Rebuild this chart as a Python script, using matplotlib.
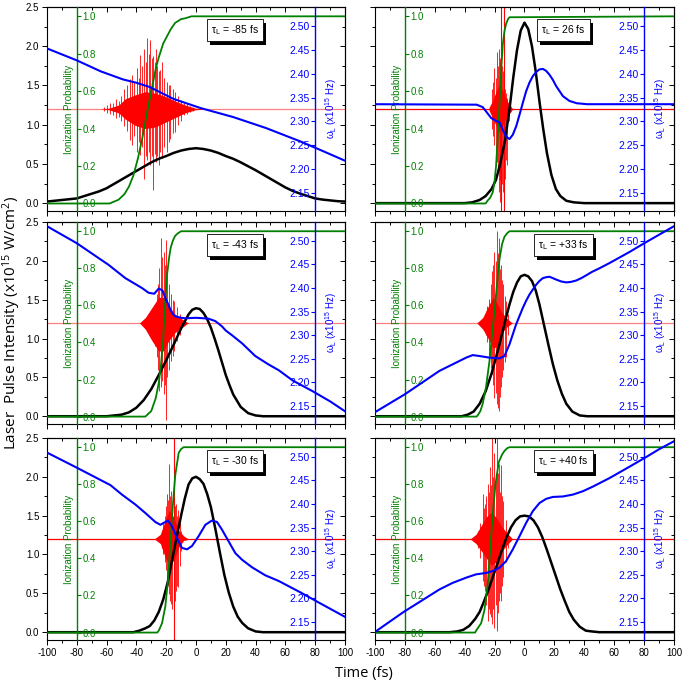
import matplotlib
matplotlib.use('Agg')
import matplotlib.pyplot as plt
import matplotlib.patheffects as pe
from matplotlib.ticker import MultipleLocator, FormatStrFormatter

plt.rcParams['font.family'] = ['Liberation Sans', 'DejaVu Sans']
plt.rcParams['mathtext.default'] = 'regular'
plt.rcParams['axes.unicode_minus'] = False

GREEN = '#008000'
BLUE = '#0000ff'
RED = '#ff0000'

# ---------------- values ----------------
tau_labels = ['-85', '26', '-43', '+33', '-30', '+40']
red_base = 1.2   # zero of the red trace, on the intensity scale

# panel A  (tau = -85 fs)
a_black_t = [-100, -95, -90, -85, -80, -75, -70, -65, -60, -55, -50, -45, -40, -35, -30, -25, -20, -15, -10, -5, 0,
             5, 10, 15, 20, 25, 30, 35, 40, 45, 50, 55, 60, 65, 70, 75, 80, 85, 90, 95, 100]
a_black_i = [0.02, 0.03, 0.04, 0.05, 0.06, 0.09, 0.12, 0.15, 0.19, 0.245, 0.30, 0.355, 0.41, 0.465, 0.52, 0.565, 0.60,
             0.64, 0.67, 0.69, 0.70, 0.69, 0.67, 0.64, 0.60, 0.565, 0.52, 0.47, 0.42, 0.365, 0.31, 0.255, 0.20,
             0.155, 0.12, 0.09, 0.06, 0.045, 0.035, 0.025, 0.02]
a_green_t = [-100, -58, -52, -48, -45, -42, -39, -36, -33, -30, -27, -25, -22, -20, -17, -14, -10, -7, -3, 100]
a_green_p = [0, 0, 0.02, 0.05, 0.09, 0.15, 0.24, 0.35, 0.48, 0.60, 0.72, 0.78, 0.855, 0.885, 0.93, 0.965, 0.985, 0.99, 1.0, 1.0]
a_blue_t = [-100, -80, -64, -49, -40, -31, -24, -15, 3, 25, 47, 70, 82, 100]
a_blue_w = [2.453, 2.428, 2.405, 2.388, 2.381, 2.372, 2.361, 2.347, 2.328, 2.309, 2.286, 2.258, 2.242, 2.2175]
a_core_t = [-64, -58.6, -51.9, -47.4, -40.7, -34, -27.3, -20.6, -13.9, -7.2, -0.4, 6.3]
a_core_hi = [1.2, 1.21, 1.25, 1.33, 1.38, 1.42, 1.40, 1.36, 1.30, 1.25, 1.21, 1.2]
a_core_lo = [1.2, 1.19, 1.15, 1.07, 0.99, 0.95, 0.97, 1.03, 1.09, 1.15, 1.19, 1.2]
a_spk_t = [-62, -60, -58, -56, -54, -52, -50, -48, -46, -44, -43, -41.5, -39.6, -38.5, -37.4, -36, -34.7, -33.8,
           -32.9, -31.8, -30.6, -29.7, -28.9, -27.8, -26.8, -25.9, -25.1, -24, -22.8, -21.5, -19.5, -18.3, -17.2,
           -15.5, -13.9, -12, -10, -8, -6, -4, -2]
a_spk_hi = [1.23, 1.25, 1.27, 1.28, 1.33, 1.30, 1.36, 1.45, 1.50, 1.58, 1.63, 1.55, 1.72, 1.60, 1.89, 1.75, 1.97,
            1.80, 2.10, 1.90, 2.08, 1.85, 1.87, 1.80, 1.97, 1.75, 1.68, 1.70, 1.80, 1.60, 1.55, 1.50, 1.51, 1.45,
            1.42, 1.36, 1.32, 1.28, 1.26, 1.24, 1.23]
a_spk_lo = [1.17, 1.15, 1.13, 1.12, 1.08, 1.10, 1.05, 0.98, 0.92, 0.80, 0.74, 0.85, 0.65, 0.78, 0.61, 0.72, 0.31,
            0.60, 0.55, 0.65, 0.48, 0.60, 0.17, 0.62, 0.53, 0.60, 0.48, 0.65, 0.57, 0.72, 0.65, 0.78, 0.82, 0.90,
            0.91, 1.00, 1.05, 1.12, 1.14, 1.16, 1.17]
a_line_t = []

# panel B  (tau = 26 fs)
b_black_t = [-100, -40, -35, -30, -26, -22, -19, -16, -13, -10, -7.5, -5, -2.5, 0, 2.5, 5, 7.5, 10, 12.5, 15, 18, 21, 24, 28, 33, 40, 100]
b_black_i = [0, 0, 0.01, 0.04, 0.09, 0.18, 0.30, 0.52, 0.80, 1.20, 1.60, 1.95, 2.20, 2.30, 2.22, 2.00, 1.68, 1.30, 0.95, 0.64, 0.36, 0.18, 0.09, 0.03, 0.01, 0, 0]
b_green_t = [-100, -26, -24.6, -23, -21.2, -20, -19, -17.9, -16.7, -15.6, -14.5, -13.4, -12.3, -11, -10, 100]
b_green_p = [0, 0, 0.016, 0.03, 0.06, 0.12, 0.20, 0.35, 0.53, 0.71, 0.85, 0.92, 0.96, 0.985, 0.995, 1.0]
b_blue_t = [-100, -32, -28, -25.7, -22.3, -19, -16.7, -14.5, -12.3, -10, -7.8, -5.5, -3.3, -1, 1.1, 3.3, 5.6, 8,
            10, 12.3, 14.5, 16.7, 19, 21.2, 25.7, 30, 35, 42, 100]
b_blue_w = [2.336, 2.335, 2.330, 2.321, 2.307, 2.301, 2.298, 2.282, 2.268, 2.263, 2.272, 2.290, 2.314, 2.340, 2.363,
            2.381, 2.395, 2.404, 2.409, 2.410, 2.406, 2.398, 2.387, 2.374, 2.353, 2.343, 2.338, 2.336, 2.336]
b_core_t = [-24, -23.4, -21.2, -19, -17.2, -15.6, -13.4, -11.2, -8.9, -8]
b_core_hi = [1.2, 1.23, 1.31, 1.42, 1.50, 1.48, 1.38, 1.29, 1.23, 1.2]
b_core_lo = [1.2, 1.17, 1.08, 0.99, 0.91, 0.95, 1.04, 1.12, 1.17, 1.2]
b_spk_t = [-22, -21, -20.1, -19.3, -18.5, -17.8, -17.2, -16.6, -16.1, -15, -14.5, -13.6, -12.9, -12.2, -11.6, -10.5]
b_spk_hi = [1.45, 1.55, 1.72, 1.60, 1.93, 1.75, 1.97, 1.80, 1.85, 1.75, 1.68, 1.55, 1.46, 1.40, 1.34, 1.28]
b_spk_lo = [0.95, 0.85, 0.74, 0.65, 0.53, 0.40, 0.14, 0.30, 0.02, 0.25, 0.14, 0.40, 0.31, 0.55, 0.48, 1.05]
b_line_t = [-15.5, -13.8]

# panel C  (tau = -43 fs)
c_black_t = [-100, -60, -50, -45, -40, -35, -30, -25, -20, -15, -10, -5, -2.5, 0, 2.5, 5, 7.5, 10, 12.5, 15, 17.5,
             20, 22.5, 25, 30, 35, 40, 45, 100]
c_black_i = [0, 0, 0.02, 0.05, 0.11, 0.21, 0.35, 0.53, 0.72, 0.92, 1.13, 1.31, 1.37, 1.39, 1.38, 1.33, 1.25, 1.14,
             1.00, 0.85, 0.69, 0.53, 0.40, 0.28, 0.12, 0.04, 0.01, 0, 0]
c_green_t = [-100, -34, -30, -27, -25, -23.5, -22, -21, -19.5, -18, -17, -15.5, -14, -12, -10, 100]
c_green_p = [0, 0, 0.03, 0.10, 0.18, 0.28, 0.42, 0.58, 0.76, 0.86, 0.91, 0.95, 0.975, 0.99, 1.0, 1.0]
c_blue_t = [-100, -80, -58.6, -47.4, -36.2, -31.8, -28, -25, -22.5, -20.6, -18.5, -17.2, -15.5, -13.9, -10, -7.2, 0,
            5, 8.5, 13, 17.4, 20, 24.2, 30.9, 39.8, 48.8, 55.5, 65, 78, 90, 100]
c_blue_w = [2.531, 2.495, 2.449, 2.421, 2.400, 2.390, 2.388, 2.399, 2.395, 2.379, 2.365, 2.354, 2.345, 2.340, 2.337,
            2.336, 2.337, 2.336, 2.335, 2.330, 2.319, 2.310, 2.300, 2.283, 2.256, 2.238, 2.226, 2.204, 2.182, 2.160, 2.139]
c_core_t = [-38, -37.4, -34, -29.5, -25, -21.7, -18.3, -13.9, -9.4, -6, -5]
c_core_hi = [1.2, 1.21, 1.27, 1.40, 1.53, 1.53, 1.42, 1.31, 1.25, 1.21, 1.2]
c_core_lo = [1.2, 1.19, 1.12, 0.97, 0.84, 0.84, 0.97, 1.08, 1.14, 1.19, 1.2]
c_spk_t = [-31, -29.5, -27.7, -26.2, -25.3, -24.6, -23.3, -22.5, -21.7, -20.9, -20.1, -19.2, -18.3, -16.6, -15.5, -14.5, -12.8, -11]
c_spk_hi = [1.30, 1.35, 1.38, 1.57, 1.70, 1.91, 2.29, 2.05, 2.12, 1.95, 2.27, 1.85, 1.70, 1.57, 1.50, 1.48, 1.40, 1.32]
c_spk_lo = [1.04, 1.00, 0.91, 0.76, 0.60, 0.33, 0.37, 0.45, 0.29, 0.40, -0.05, 0.50, 0.59, 0.71, 0.78, 0.84, 0.97, 1.05]
c_line_t = []

# panel D  (tau = +33 fs)
d_black_t = [-100, -42, -38, -34, -30, -26, -22, -19, -16, -13, -10, -7.5, -5, -2.5, 0, 2.5, 5, 7.5, 10, 13, 16, 19,
             22, 25, 28, 32, 37, 42, 100]
d_black_i = [0, 0, 0.02, 0.06, 0.16, 0.32, 0.55, 0.76, 0.98, 1.22, 1.44, 1.60, 1.72, 1.80, 1.82, 1.80, 1.74, 1.62,
             1.44, 1.18, 0.92, 0.67, 0.46, 0.29, 0.16, 0.06, 0.01, 0, 0]
d_green_t = [-100, -32, -31, -29.5, -27.9, -25.7, -23.4, -21.2, -19, -16.7, -15, -13.4, -11.5, -10, 100]
d_green_p = [0, 0, 0.01, 0.03, 0.07, 0.16, 0.30, 0.48, 0.66, 0.85, 0.93, 0.97, 0.99, 1.0, 1.0]
d_blue_t = [-100, -80, -56.9, -48, -39, -34.6, -30.1, -23.4, -16.7, -13.4, -10, -7.8, -5.6, -3.3, -1.1, 1.1, 3.3,
            5.6, 7.8, 10, 12.3, 14.5, 16.7, 19, 21.2, 24.5, 27.9, 31, 34.6, 38, 41.3, 45, 50.2, 56.9, 70, 81.2, 100]
d_blue_w = [2.137, 2.175, 2.2245, 2.2385, 2.2526, 2.258, 2.256, 2.2526, 2.251, 2.256, 2.281, 2.302, 2.323, 2.341,
            2.358, 2.373, 2.386, 2.397, 2.407, 2.415, 2.421, 2.423, 2.424, 2.421, 2.418, 2.414, 2.412, 2.413, 2.416,
            2.421, 2.427, 2.434, 2.442, 2.453, 2.476, 2.497, 2.531]
d_core_t = [-32, -31.3, -27.9, -24.6, -21.2, -19, -15.6, -12.3, -8.9, -8]
d_core_hi = [1.2, 1.21, 1.27, 1.40, 1.53, 1.48, 1.35, 1.27, 1.21, 1.2]
d_core_lo = [1.2, 1.19, 1.12, 1.01, 0.88, 0.89, 1.06, 1.14, 1.19, 1.2]
d_spk_t = [-26, -24.8, -23.4, -22.6, -21.9, -21, -20.1, -19.3, -18.5, -17.8, -17.2, -16.4, -15.6, -14.8, -14.1, -13.2, -12.3, -11]
d_spk_hi = [1.35, 1.42, 1.51, 1.70, 1.87, 1.95, 2.12, 2.00, 2.38, 2.10, 2.29, 1.90, 1.95, 1.75, 1.70, 1.55, 1.48, 1.32]
d_spk_lo = [1.05, 0.95, 0.76, 0.62, 0.54, 0.40, 0.24, 0.30, 0.16, 0.10, 0.07, 0.25, 0.37, 0.50, 0.59, 0.70, 0.76, 1.05]
d_line_t = []

# panel E  (tau = -30 fs)
e_black_t = [-100, -42, -38, -34, -31, -28, -25, -22, -19, -16, -13, -10, -7.5, -5, -2.5, 0, 2.5, 5, 7.5, 10, 13,
             16, 19, 22, 25, 28, 31, 35, 40, 45, 100]
e_black_i = [0, 0, 0.02, 0.05, 0.08, 0.15, 0.26, 0.42, 0.64, 0.93, 1.22, 1.50, 1.72, 1.90, 1.98, 2.00, 1.97, 1.91,
             1.78, 1.61, 1.33, 1.03, 0.74, 0.51, 0.33, 0.20, 0.12, 0.05, 0.01, 0, 0]
e_green_t = [-100, -26, -25, -22.8, -20.6, -18.8, -17.2, -15.7, -13.9, -11.6, -10, -8.3, 100]
e_green_p = [0, 0, 0.01, 0.05, 0.14, 0.28, 0.48, 0.67, 0.85, 0.97, 0.99, 1.0, 1.0]
e_blue_t = [-100, -80, -57.4, -49.7, -40.7, -34, -27.3, -23.9, -21.7, -18.8, -16.1, -12.8, -9.4, -6, -2.7, 1.8,
            6.3, 10.7, 14.1, 17.4, 21.9, 26.4, 30.9, 37.6, 46.5, 55.5, 70, 82, 100]
e_blue_w = [2.509, 2.477, 2.440, 2.420, 2.399, 2.381, 2.362, 2.356, 2.360, 2.365, 2.353, 2.328, 2.307, 2.304,
            2.311, 2.332, 2.356, 2.365, 2.362, 2.346, 2.321, 2.296, 2.282, 2.266, 2.249, 2.237, 2.213, 2.192, 2.161]
e_core_t = [-28, -27.3, -23.9, -20.6, -17.9, -15, -11.6, -8.3, -6, -5]
e_core_hi = [1.2, 1.21, 1.26, 1.44, 1.57, 1.48, 1.31, 1.24, 1.21, 1.2]
e_core_lo = [1.2, 1.19, 1.14, 0.96, 0.88, 0.92, 1.09, 1.18, 1.19, 1.2]
e_spk_t = [-23, -22, -21, -20.3, -19.5, -18.7, -17.9, -17.2, -16.6, -15.8, -15, -14.2, -13.4, -12.7, -12.1, -11, -10]
e_spk_hi = [1.32, 1.40, 1.50, 1.62, 1.78, 1.70, 2.17, 1.75, 1.82, 1.60, 1.69, 1.62, 1.65, 1.50, 1.57, 1.40, 1.30]
e_spk_lo = [1.08, 1.00, 0.90, 0.80, 0.66, 0.60, 0.49, 0.40, 0.36, 0.30, 0.19, 0.40, 0.53, 0.60, 0.58, 0.85, 1.05]
e_line_t = [-14.5]

# panel F  (tau = +40 fs)
f_black_t = [-100, -50, -45, -41, -37, -33, -30, -27, -24, -21, -18, -15, -12, -9, -6, -3, 0, 3, 6, 9, 12, 15, 18,
             21, 24, 27, 30, 33, 37, 41, 45, 50, 100]
f_black_i = [0, 0, 0.01, 0.03, 0.08, 0.17, 0.26, 0.40, 0.55, 0.72, 0.89, 1.06, 1.22, 1.35, 1.44, 1.49, 1.50, 1.49,
             1.44, 1.35, 1.22, 1.06, 0.89, 0.72, 0.55, 0.40, 0.26, 0.16, 0.07, 0.02, 0.01, 0, 0]
f_green_t = [-100, -33, -32.4, -29, -26.8, -24.6, -23, -21.2, -19.4, -17.2, -15, -13.4, -11.5, -10, 100]
f_green_p = [0, 0, 0.01, 0.05, 0.12, 0.26, 0.44, 0.64, 0.80, 0.92, 0.96, 0.98, 0.995, 1.0, 1.0]
f_blue_t = [-100, -81, -56.9, -48, -39, -32.4, -25.7, -21.2, -16.7, -12.3, -7.8, -3.3, 1.1, 5.6, 10, 14.5, 19,
            25.7, 32.4, 39, 45.8, 56.9, 68, 80.6, 90, 100]
f_blue_w = [2.129, 2.171, 2.219, 2.233, 2.244, 2.251, 2.254, 2.258, 2.265, 2.279, 2.304, 2.332, 2.360, 2.385,
            2.402, 2.411, 2.415, 2.416, 2.420, 2.427, 2.437, 2.455, 2.475, 2.498, 2.516, 2.533]
f_core_t = [-37, -35.7, -32.4, -29, -25.7, -22.3, -19, -15.6, -12.3, -8.9, -8]
f_core_hi = [1.2, 1.21, 1.26, 1.37, 1.48, 1.54, 1.48, 1.37, 1.29, 1.22, 1.2]
f_core_lo = [1.2, 1.19, 1.14, 1.05, 0.96, 0.86, 0.90, 1.03, 1.11, 1.18, 1.2]
f_spk_t = [-31, -29.5, -27.9, -27.1, -26.3, -25.4, -24.6, -23.8, -23, -22.3, -21.7, -20.9, -20.1, -19.3, -18.5,
           -17.9, -17.2, -16.4, -15.6, -14.9, -14.1, -12.5, -11]
f_spk_hi = [1.30, 1.40, 1.78, 1.60, 1.65, 1.75, 1.91, 1.80, 2.12, 1.90, 2.70, 2.00, 2.30, 1.95, 2.70, 2.05, 2.17,
            1.80, 2.15, 1.75, 1.69, 1.45, 1.30]
f_spk_lo = [1.08, 0.95, 0.66, 0.60, 0.53, 0.35, 0.15, 0.30, 0.23, 0.20, 0.10, 0.30, 0.06, 0.35, 0.02, 0.25, 0.40,
            0.50, 0.40, 0.60, 0.71, 0.90, 1.08]
f_line_t = []

panels = [
    (a_black_t, a_black_i, a_green_t, a_green_p, a_blue_t, a_blue_w, a_core_t, a_core_hi, a_core_lo, a_spk_t, a_spk_hi, a_spk_lo, a_line_t),
    (b_black_t, b_black_i, b_green_t, b_green_p, b_blue_t, b_blue_w, b_core_t, b_core_hi, b_core_lo, b_spk_t, b_spk_hi, b_spk_lo, b_line_t),
    (c_black_t, c_black_i, c_green_t, c_green_p, c_blue_t, c_blue_w, c_core_t, c_core_hi, c_core_lo, c_spk_t, c_spk_hi, c_spk_lo, c_line_t),
    (d_black_t, d_black_i, d_green_t, d_green_p, d_blue_t, d_blue_w, d_core_t, d_core_hi, d_core_lo, d_spk_t, d_spk_hi, d_spk_lo, d_line_t),
    (e_black_t, e_black_i, e_green_t, e_green_p, e_blue_t, e_blue_w, e_core_t, e_core_hi, e_core_lo, e_spk_t, e_spk_hi, e_spk_lo, e_line_t),
    (f_black_t, f_black_i, f_green_t, f_green_p, f_blue_t, f_blue_w, f_core_t, f_core_hi, f_core_lo, f_spk_t, f_spk_hi, f_spk_lo, f_line_t),
]
# baseline of the red trace looks paler in some panels
base_color = ['#ff8080', RED, '#ff8080', '#ff8080', RED, RED]

# ---------------- layout (figure fractions) ----------------
col_x = [0.0686, 0.5474]
col_w = [0.435, 0.4365]
row_y = [0.6911, 0.3792, 0.0630]
row_h = [0.2987, 0.2958, 0.2958]

fig = plt.figure(figsize=(6.85, 6.83), dpi=100)

for k, p in enumerate(panels):
    (bt, bi, gt, gp, wt, ww, ct, chi, clo, st, shi, slo, lt) = p
    row, col = k // 2, k % 2
    ax = fig.add_axes([col_x[col], row_y[row], col_w[col], row_h[row]])
    axg = ax.twinx()
    axb = ax.twinx()

    # intensity axis: red trace and black pulse
    ax.set_xlim(-100, 100)
    ax.set_ylim(-0.1, 2.5)
    ax.axhline(red_base, color=base_color[k], lw=0.9, zorder=1)
    ax.fill_between(ct, clo, chi, color=RED, lw=0, zorder=2)
    ax.vlines(st, slo, shi, color=RED, lw=0.6, zorder=2)
    if lt:
        ax.vlines(lt, -0.2, 2.7, color=RED, lw=0.8, zorder=2)
    ax.plot(bt, bi, color='black', lw=1.8, zorder=3)

    ax.xaxis.set_major_locator(MultipleLocator(20))
    ax.xaxis.set_minor_locator(MultipleLocator(10))
    ax.yaxis.set_major_locator(MultipleLocator(0.5))
    ax.yaxis.set_minor_locator(MultipleLocator(0.25))
    ax.xaxis.set_major_formatter(FormatStrFormatter('%d'))
    ax.yaxis.set_major_formatter(FormatStrFormatter('%.1f'))
    ax.tick_params(which='both', direction='out', labelsize=7, width=0.7, pad=2,
                   top=False, right=False, left=True, bottom=True)
    ax.tick_params(which='major', length=3.5)
    ax.tick_params(which='minor', length=2)
    if row < 2:
        ax.tick_params(labelbottom=False)
    if col == 1:
        ax.tick_params(labelleft=False)
    for s in ax.spines.values():
        s.set_linewidth(0.8)

    # mirrored ticks pointing inward on top and right
    sx = ax.secondary_xaxis('top')
    sx.xaxis.set_major_locator(MultipleLocator(20))
    sx.xaxis.set_minor_locator(MultipleLocator(10))
    sx.tick_params(which='both', direction='in', labeltop=False, width=0.7)
    sx.tick_params(which='major', length=3.5)
    sx.tick_params(which='minor', length=2)
    sy = ax.secondary_yaxis('right')
    sy.yaxis.set_major_locator(MultipleLocator(0.5))
    sy.yaxis.set_minor_locator(MultipleLocator(0.25))
    sy.tick_params(which='both', direction='in', labelright=False, width=0.7)
    sy.tick_params(which='major', length=3.5)
    sy.tick_params(which='minor', length=2)

    # ionization probability axis (spine at t = -80)
    axg.set_ylim(-0.04, 1.05)
    axg.plot(gt, gp, color=GREEN, lw=1.3)
    for s in ['left', 'top', 'bottom']:
        axg.spines[s].set_visible(False)
    axg.spines['right'].set_position(('data', -80))
    axg.spines['right'].set_color(GREEN)
    axg.spines['right'].set_linewidth(1.0)
    axg.yaxis.set_major_locator(MultipleLocator(0.2))
    axg.yaxis.set_major_formatter(FormatStrFormatter('%.1f'))
    axg.tick_params(axis='y', colors=GREEN, direction='out', length=3, labelsize=7, pad=1)
    axg.text(0.075, 0.5, 'Ionization Probability', transform=axg.transAxes, rotation=90,
             ha='center', va='center', color=GREEN, fontsize=7)

    # laser frequency axis (spine at t = 80)
    axb.set_ylim(2.112, 2.540)
    axb.plot(wt, ww, color=BLUE, lw=1.5)
    for s in ['right', 'top', 'bottom']:
        axb.spines[s].set_visible(False)
    axb.spines['left'].set_visible(True)
    axb.spines['left'].set_position(('data', 80))
    axb.spines['left'].set_color(BLUE)
    axb.spines['left'].set_linewidth(1.0)
    axb.yaxis.set_ticks_position('left')
    axb.yaxis.set_major_locator(MultipleLocator(0.05))
    axb.yaxis.set_major_formatter(FormatStrFormatter('%.2f'))
    axb.tick_params(axis='y', colors=BLUE, direction='out', length=3, labelsize=7.5, pad=1)
    axb.text(0.952, 0.5, r'$\omega_L$ (x10$^{15}$ Hz)', transform=axb.transAxes, rotation=90,
             ha='center', va='center', color=BLUE, fontsize=7)

    txt = axb.text(0.63, 0.885, r'$\tau_L$ = %s fs' % tau_labels[k], transform=axb.transAxes,
                   ha='center', va='center', fontsize=7.5, zorder=10,
                   bbox=dict(boxstyle='square,pad=0.4', fc='white', ec='black', lw=0.6))
    txt.get_bbox_patch().set_path_effects(
        [pe.withSimplePatchShadow(offset=(2.5, -2.5), shadow_rgbFace='black', alpha=1.0)])

fig.text(0.0175, 0.527, 'Laser  Pulse Intensity (x10$^{15}$ W/cm$^2$)', rotation=90,
         ha='center', va='center', fontsize=11, family=['Open Sans', 'DejaVu Sans'])
fig.text(0.531, 0.0146, 'Time (fs)', ha='center', va='center', fontsize=10.5,
         family=['Open Sans', 'DejaVu Sans'])

fig.savefig('out.png', dpi=100)
